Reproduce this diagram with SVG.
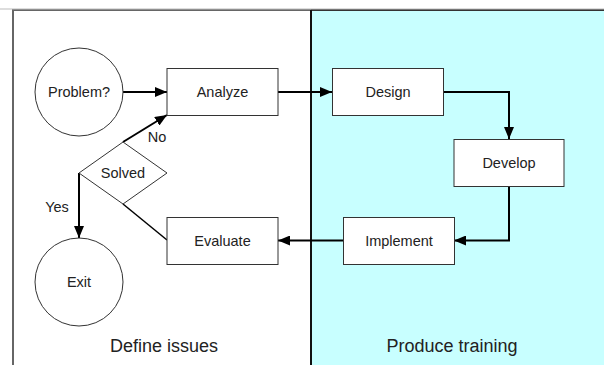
<svg xmlns="http://www.w3.org/2000/svg" width="604" height="365" viewBox="0 0 604 365">
<defs>
<marker id="ah" viewBox="0 0 12 10" refX="12" refY="5" markerWidth="12" markerHeight="10" markerUnits="userSpaceOnUse" orient="auto">
<path d="M0,0 L12,5 L0,10 Z" fill="#000"/>
</marker>
</defs>
<style>
.box{fill:#fff;stroke:#333;stroke-width:1}
.t{font-family:"Liberation Sans",Arial,sans-serif;font-size:14.5px;fill:#222;text-anchor:middle;dominant-baseline:central}
.lane{font-family:"Liberation Sans",Arial,sans-serif;font-size:18px;fill:#222;text-anchor:middle;dominant-baseline:central}
.c{fill:none;stroke:#000;stroke-width:2}
.c1{fill:none;stroke:#000;stroke-width:1.5}
</style>
<rect x="0" y="0" width="604" height="365" fill="#fff"/>
<g id="lane-define">
<rect x="13" y="10" width="298" height="360" fill="#fff"/>
<path d="M13,366 L13,10 L311,10" fill="none" stroke="#666" stroke-width="2"/>
<text class="lane" x="164" y="346">Define issues</text>
</g>
<g id="lane-produce">
<rect x="311" y="10" width="300" height="360" fill="#c8ffff"/>
<path d="M311,10 L604,10" stroke="#333" stroke-width="2"/>
<line x1="311" y1="10" x2="311" y2="366" stroke="#111" stroke-width="2"/>
<text class="lane" x="452" y="346">Produce training</text>
</g>
<line x1="0" y1="9" x2="604" y2="9" stroke="#bbb" stroke-width="1"/>
<g id="connectors">
<line class="c" x1="123" y1="92" x2="167" y2="92" marker-end="url(#ah)"/>
<line class="c" x1="278" y1="92" x2="332" y2="92" marker-end="url(#ah)"/>
<polyline class="c" points="443,92 509,92 509,139" marker-end="url(#ah)"/>
<polyline class="c" points="509,186 509,240.5 454,240.5" marker-end="url(#ah)"/>
<line class="c" x1="343" y1="240.5" x2="278" y2="240.5" marker-end="url(#ah)"/>
<line class="c1" x1="167" y1="240" x2="123" y2="204"/>
<line class="c" x1="123" y1="142" x2="167" y2="115" marker-end="url(#ah)"/>
<line class="c" x1="79" y1="173" x2="79" y2="238" marker-end="url(#ah)"/>
<text class="t" x="157" y="137">No</text>
<text class="t" x="57" y="207">Yes</text>
</g>
<g id="problem">
<circle class="box" cx="79" cy="92" r="44"/>
<text class="t" x="79" y="92">Problem?</text>
</g>
<g id="analyze">
<rect class="box" x="167" y="68.5" width="111" height="47"/>
<text class="t" x="222.5" y="92">Analyze</text>
</g>
<g id="design">
<rect class="box" x="332.5" y="68.5" width="111" height="47"/>
<text class="t" x="388" y="92">Design</text>
</g>
<g id="develop">
<rect class="box" x="454" y="139.5" width="110" height="47"/>
<text class="t" x="509" y="162.5">Develop</text>
</g>
<g id="implement">
<rect class="box" x="343.5" y="217.5" width="111" height="47"/>
<text class="t" x="399" y="240.5">Implement</text>
</g>
<g id="evaluate">
<rect class="box" x="167" y="217.5" width="111" height="47"/>
<text class="t" x="222.5" y="240.5">Evaluate</text>
</g>
<g id="solved">
<polygon class="box" points="79,173 123,142 167,173 123,204"/>
<text class="t" x="123" y="173">Solved</text>
</g>
<g id="exit">
<circle class="box" cx="79" cy="282" r="44"/>
<text class="t" x="79" y="282">Exit</text>
</g>
</svg>
